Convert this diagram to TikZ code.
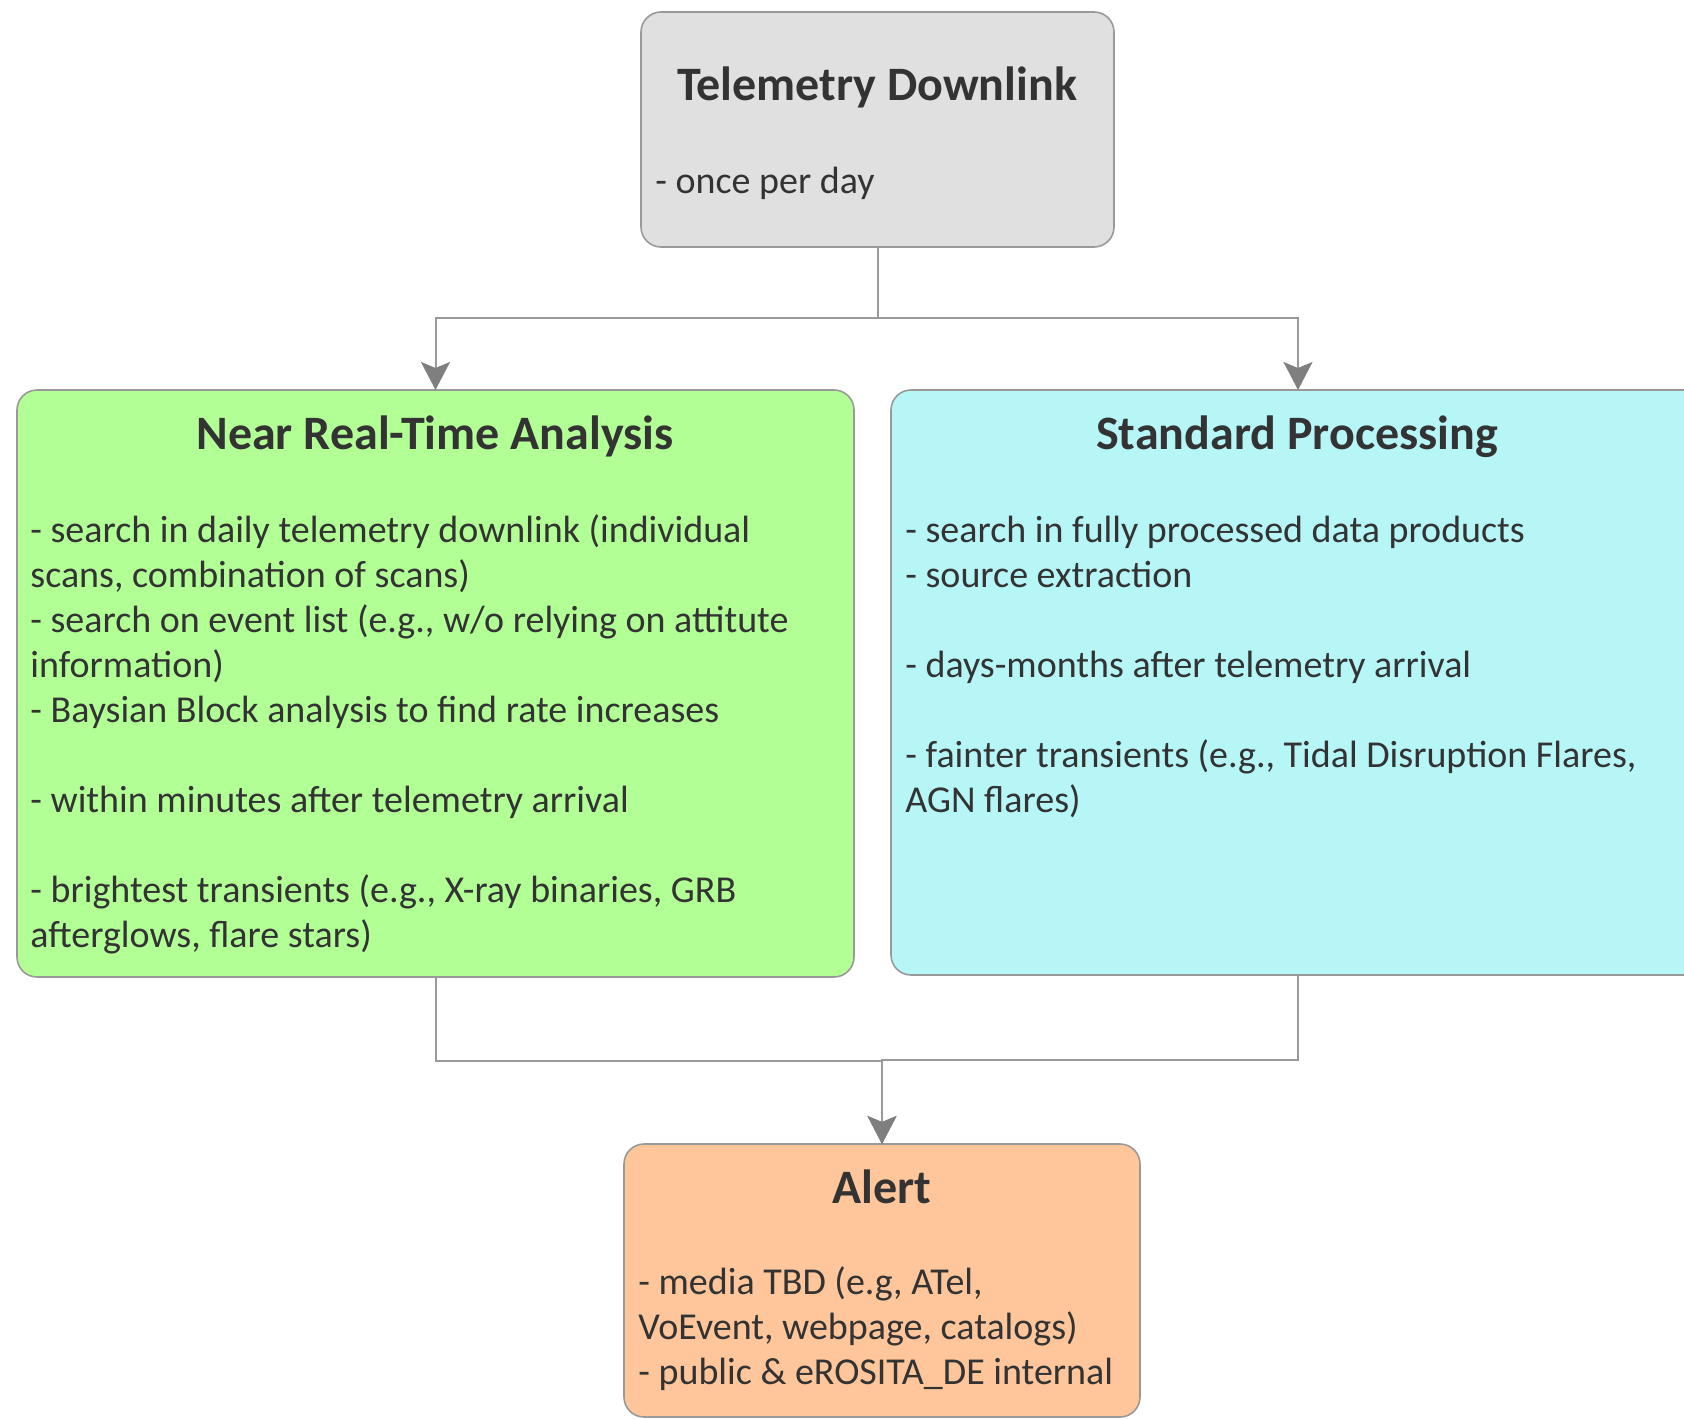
\documentclass[tikz,border=0pt]{standalone}
\usepackage{fontspec}
\setmainfont{Carlito}
\usetikzlibrary{arrows.meta}
\definecolor{txt}{HTML}{333333}
\definecolor{lgray}{HTML}{E0E0E0}
\definecolor{lgreen}{HTML}{B2FF96}
\definecolor{lcyan}{HTML}{B6F6F6}
\definecolor{lorange}{HTML}{FEC69A}
\definecolor{edge}{HTML}{999999}
\definecolor{tip}{HTML}{7F7F7F}
\tikzset{
  box/.style={draw=edge, line width=0.8pt, rounded corners=10pt, inner sep=0pt, outer sep=0pt, anchor=north west},
  ttl/.style={font=\fontsize{24}{29}\selectfont\bfseries, text=txt, inner sep=0pt, anchor=base},
  bodytext/.style={font=\fontsize{19}{22.5}\selectfont, text=txt, inner sep=0pt, anchor=base west},
  conn/.style={draw=edge, line width=1pt, -{Stealth[length=14pt, width=14.5pt, inset=3pt, color=tip]}},
  plain/.style={draw=edge, line width=1pt}
}
\begin{document}
\begin{tikzpicture}[x=0.5pt, y=-0.5pt]
\useasboundingbox (0,0) rectangle (1684,1418);
% boxes
\node[box, fill=lgray, minimum width=236.5pt, minimum height=117.5pt] (tel) at (641,12) {};
\node[box, fill=lgreen, minimum width=418.5pt, minimum height=293.5pt] (nrt) at (17,390) {};
\node[box, fill=lcyan, minimum width=407pt, minimum height=292.5pt] (sp) at (891,390) {};
\node[box, fill=lorange, minimum width=258pt, minimum height=136.5pt] (alert) at (624,1144) {};
% telemetry text
\node[ttl] (telT) at (877,100) {Telemetry Downlink};
\node[bodytext] (tel1) at (655,193) {- once per day};
% near real-time text
\node[ttl] (nrtT) at (435,449) {Near Real-Time Analysis};
\node[bodytext] (n1) at (30,542) {- search in daily telemetry downlink (individual};
\node[bodytext] (n2) at (30,587) {scans, combination of scans)};
\node[bodytext] (n3) at (30,632) {- search on event list (e.g., w/o relying on attitute};
\node[bodytext] (n4) at (30,677) {information)};
\node[bodytext] (n5) at (30,722) {- Baysian Block analysis to find rate increases};
\node[bodytext] (n6) at (30,812) {- within minutes after telemetry arrival};
\node[bodytext] (n7) at (30,902) {- brightest transients (e.g., X-ray binaries, GRB};
\node[bodytext] (n8) at (30,947) {afterglows, flare stars)};
% standard processing text
\node[ttl] (spT) at (1297,449) {Standard Processing};
\node[bodytext] (s1) at (905,542) {- search in fully processed data products};
\node[bodytext] (s2) at (905,587) {- source extraction};
\node[bodytext] (s3) at (905,677) {- days-months after telemetry arrival};
\node[bodytext] (s4) at (905,767) {- fainter transients (e.g., Tidal Disruption Flares,};
\node[bodytext] (s5) at (905,812) {AGN flares)};
% alert text
\node[ttl] (alertT) at (882,1203) {Alert};
\node[bodytext] (a1) at (638,1294) {- media TBD (e.g, ATel,};
\node[bodytext] (a2) at (638,1339) {VoEvent, webpage, catalogs)};
\node[bodytext] (a3) at (638,1384) {- public \& eROSITA\_DE internal};
% connectors
\draw[conn] (tel.south) -- ++(0,71) -| (nrt.north);
\draw[conn] (tel.south) -- ++(0,71) -| (sp.north);
\draw[conn] (nrt.south) -- ++(0,84) -| (alert.north);
\draw[conn] (sp.south) -- ++(0,85) -| (alert.north);
\end{tikzpicture}
\end{document}
